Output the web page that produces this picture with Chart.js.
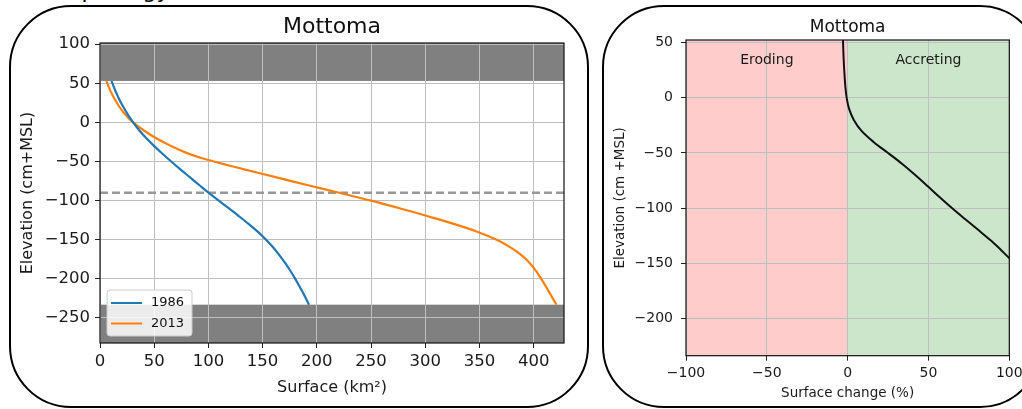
<!DOCTYPE html>
<html>
<head>
<meta charset="utf-8">
<script src="https://cdn.jsdelivr.net/npm/chart.js@4"></script>
<style>
  html, body { margin: 0; padding: 0; background: #fff; width: 1022px; height: 409px; overflow: hidden; position: relative; }
  .panel { position: absolute; border: 2px solid #000; border-radius: 62px; box-sizing: border-box; }
  #leftPanel { left: 9px; top: 5px; width: 580px; height: 403px; }
  #rightPanel { left: 602px; top: 5px; width: 440px; height: 403px; }
  #cutTitle { position: absolute; left: 40px; top: -20px; font: 22px/1 'DejaVu Sans', sans-serif; color: #000; }
  canvas { position: absolute; top: 0; }
  #left { left: 0; }
  #right { left: 600px; }
</style>
</head>
<body>
<div id="cutTitle">Morphology</div>
<div class="panel" id="leftPanel"></div>
<div class="panel" id="rightPanel"></div>
<canvas id="left" width="600" height="409"></canvas>
<canvas id="right" width="440" height="409"></canvas>
<script>
// hypsometric curves, elevation in cm+MSL, surface in km2
const elevations = [53, 40, 30, 20, 10, 0, -10, -20, -30, -40, -50, -60, -70, -80, -90, -100,
  -110, -120, -130, -140, -150, -160, -170, -180, -190, -200, -210, -220, -233];
const surface1986 = [10.6, 14.3, 17.6, 21.4, 25.7, 30.6, 36.1, 42.6, 49.8, 57.6, 65.7, 74.1, 82.8, 91.5, 100.3, 109.6,
  119, 128.3, 137.3, 145.7, 153.2, 159.8, 165.6, 170.9, 175.7, 180.1, 184.2, 188.1, 192.8];
const surface2013 = [5.9, 9.7, 13.5, 17.8, 23.3, 30.5, 40.2, 51.5, 65.3, 81.8, 105.2, 133, 162, 191, 220.5, 250,
  277, 302.5, 327, 348.5, 366, 379, 389, 396.5, 402.3, 407, 411.4, 415.6, 421];
const refLevel = -90;
const bandTop = [53, 101.5];
const bandBottom = [-282, -233];

// surface change (%) between the two surveys
const changeElevations = [52.5, 40, 30, 20, 10, 0, -10, -20, -30, -40, -50, -60, -70, -80, -90, -100,
  -110, -120, -130, -140, -150];
const surfaceChange = [-2.9, -2.6, -2.3, -1.9, -1.4, -0.6, 0.9, 3.8, 8.6, 16, 25, 33.8, 41.8, 49.4, 56.8, 64.5,
  72.6, 80.9, 89, 96.2, 103];

const xTicksLeft = [0, 50, 100, 150, 200, 250, 300, 350, 400];
const yTicksLeft = [-250, -200, -150, -100, -50, 0, 50, 100];
const xTicksRight = [-100, -50, 0, 50, 100];
const yTicksRight = [-200, -150, -100, -50, 0, 50];

const FONT = "'DejaVu Sans', sans-serif";
const minus = (v) => String(v).replace('-', '\u2212');

function axis(opts) {
  return {
    type: 'linear',
    min: opts.min,
    max: opts.max,
    afterBuildTicks: (s) => { s.ticks = opts.ticks.map((v) => ({ value: v })); },
    afterFit: opts.fit,
    grid: { color: '#bfbfbf', lineWidth: 1, tickLength: 5, tickColor: '#222' },
    border: { display: false },
    ticks: { font: { family: FONT, size: opts.size }, color: '#1a1a1a', padding: opts.pad, callback: minus, maxRotation: 0 },
    title: { display: true, text: opts.title, font: { family: FONT, size: opts.titleSize }, color: '#1a1a1a', padding: opts.titlePad },
  };
}

const frame = {
  id: 'frame',
  afterDatasetsDraw(chart) {
    const { ctx, chartArea: a } = chart;
    ctx.save();
    ctx.strokeStyle = '#111';
    ctx.lineWidth = 1.2;
    ctx.strokeRect(a.left, a.top, a.right - a.left, a.bottom - a.top);
    ctx.restore();
  },
};

function heading(text, size, lift) {
  return {
    id: 'heading',
    afterDraw(chart) {
      const { ctx, chartArea: a } = chart;
      ctx.save();
      ctx.font = size + 'px ' + FONT;
      ctx.fillStyle = '#111';
      ctx.textAlign = 'center';
      ctx.textBaseline = 'alphabetic';
      ctx.fillText(text, (a.left + a.right) / 2, a.top - lift);
      ctx.restore();
    },
  };
}

const bands = {
  id: 'bands',
  beforeDraw(chart) {
    const { ctx, chartArea: a, scales: { y } } = chart;
    ctx.save();
    ctx.fillStyle = '#808080';
    [bandTop, bandBottom].forEach(([lo, hi]) => {
      const y1 = y.getPixelForValue(hi);
      const y2 = y.getPixelForValue(lo);
      ctx.fillRect(a.left, y1, a.right - a.left, y2 - y1);
    });
    ctx.restore();
  },
};

const legendBox = {
  id: 'legendBox',
  afterDraw(chart) {
    const { ctx, chartArea: a } = chart;
    const x = a.left + 7, y = a.bottom - 53, w = 85, h = 46;
    ctx.save();
    ctx.fillStyle = 'rgba(255,255,255,0.85)';
    ctx.strokeStyle = '#cccccc';
    ctx.lineWidth = 1;
    ctx.beginPath();
    ctx.roundRect(x, y, w, h, 3);
    ctx.fill();
    ctx.stroke();
    chart.data.datasets.slice(0, 2).forEach((ds, i) => {
      const ly = y + 13 + i * 20.5;
      ctx.strokeStyle = ds.borderColor;
      ctx.lineWidth = 2;
      ctx.beginPath();
      ctx.moveTo(x + 4, ly);
      ctx.lineTo(x + 35, ly);
      ctx.stroke();
      ctx.fillStyle = '#111';
      ctx.font = '13px ' + FONT;
      ctx.textBaseline = 'middle';
      ctx.fillText(ds.label, x + 44, ly);
    });
    ctx.restore();
  },
};

new Chart(document.getElementById('left'), {
  type: 'scatter',
  data: {
    datasets: [
      {
        label: '1986',
        data: elevations.map((e, i) => ({ x: surface1986[i], y: e })),
        showLine: true, borderColor: '#1f77b4', borderWidth: 2.2, pointRadius: 0, tension: 0.35,
      },
      {
        label: '2013',
        data: elevations.map((e, i) => ({ x: surface2013[i], y: e })),
        showLine: true, borderColor: '#ff7f0e', borderWidth: 2.2, pointRadius: 0, tension: 0.35,
      },
      {
        label: 'reference',
        data: [{ x: 0, y: refLevel }, { x: 428, y: refLevel }],
        showLine: true, borderColor: '#999999', borderWidth: 2.5, borderDash: [8, 4], pointRadius: 0,
      },
    ],
  },
  options: {
    responsive: false,
    animation: false,
    layout: { padding: { left: 0, top: 43, right: 36, bottom: 0 } },
    scales: {
      x: axis({ min: 0, max: 428, ticks: xTicksLeft, size: 16.5, pad: 4, title: 'Surface (km\u00b2)', titleSize: 16,
        titlePad: { top: 0, bottom: 12 }, fit: (s) => { s.height = 66; } }),
      y: axis({ min: -282, max: 101.5, ticks: yTicksLeft, size: 16.5, pad: 5, title: 'Elevation (cm+MSL)', titleSize: 16,
        titlePad: { top: 18, bottom: 0 }, fit: (s) => { s.width = 100; } }),
    },
    plugins: { legend: { display: false }, tooltip: { enabled: false } },
  },
  plugins: [bands, frame, heading('Mottoma', 22, 10), legendBox],
});

const zones = {
  id: 'zones',
  beforeDraw(chart) {
    const { ctx, chartArea: a, scales: { x } } = chart;
    const x0 = x.getPixelForValue(0);
    ctx.save();
    ctx.fillStyle = '#ffcccc';
    ctx.fillRect(a.left, a.top, x0 - a.left, a.bottom - a.top);
    ctx.fillStyle = '#cce6cc';
    ctx.fillRect(x0, a.top, a.right - x0, a.bottom - a.top);
    ctx.restore();
  },
  afterDatasetsDraw(chart) {
    const { ctx, scales: { x, y } } = chart;
    ctx.save();
    ctx.font = '14px ' + FONT;
    ctx.fillStyle = '#1a1a1a';
    ctx.textAlign = 'center';
    ctx.textBaseline = 'middle';
    ctx.fillText('Eroding', x.getPixelForValue(-50), y.getPixelForValue(34));
    ctx.fillText('Accreting', x.getPixelForValue(50), y.getPixelForValue(34));
    ctx.restore();
  },
};

new Chart(document.getElementById('right'), {
  type: 'scatter',
  data: {
    datasets: [
      {
        label: 'change',
        data: changeElevations.map((e, i) => ({ x: surfaceChange[i], y: e })),
        showLine: true, borderColor: '#111111', borderWidth: 2, pointRadius: 0, tension: 0.35,
      },
    ],
  },
  options: {
    responsive: false,
    animation: false,
    layout: { padding: { left: 0, top: 40, right: 30.7, bottom: 0 } },
    scales: {
      x: axis({ min: -100, max: 100, ticks: xTicksRight, size: 14, pad: 4, title: 'Surface change (%)', titleSize: 13.5,
        titlePad: { top: 0, bottom: 7 }, fit: (s) => { s.height = 53.3; } }),
      y: axis({ min: -234, max: 52.5, ticks: yTicksRight, size: 14, pad: 8, title: 'Elevation (cm +MSL)', titleSize: 13.5,
        titlePad: { top: 12.4, bottom: 0 }, fit: (s) => { s.width = 86; } }),
    },
    plugins: { legend: { display: false }, tooltip: { enabled: false } },
  },
  plugins: [zones, frame, heading('Mottoma', 17, 8)],
});
</script>
</body>
</html>
